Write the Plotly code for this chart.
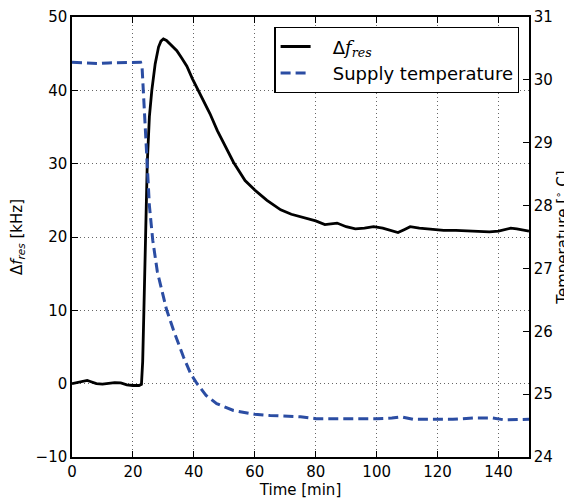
import plotly.graph_objects as go

# Δf_res (left axis, kHz)
t_df = [0, 2, 4, 5, 6, 8, 10, 12, 14, 16, 18, 20, 22, 22.8, 23.2, 23.6, 24.1, 24.7, 25.4,
        26.2, 27.3, 28.4, 29.2, 30.0, 31.0, 32.5, 34.4, 36.0, 37.7, 39.5, 41.5, 43.5, 45.3,
        47.7, 50.3, 53, 56.8, 60, 64, 68.5, 72, 76, 80, 83, 85, 87, 90, 93, 96, 99, 102,
        105, 107, 109, 111, 114, 118, 122, 126, 130, 134, 137, 140, 142, 144, 146, 148, 150]
df_res = [0, 0.2, 0.4, 0.45, 0.3, 0, -0.05, 0.05, 0.15, 0.1, -0.15, -0.25, -0.25, -0.1, 3,
          10, 20, 30, 36.4, 40, 43.6, 45.9, 46.7, 47.0, 46.8, 46.2, 45.4, 44.4, 43.3, 41.6,
          40.0, 38.4, 36.8, 34.5, 32.3, 30.2, 27.7, 26.4, 25.0, 23.7, 23.1, 22.7, 22.2,
          21.7, 21.8, 21.9, 21.4, 21.1, 21.2, 21.4, 21.2, 20.9, 20.6, 21.0, 21.4, 21.2,
          21.0, 20.9, 20.9, 20.8, 20.8, 20.7, 20.8, 21.0, 21.2, 21.1, 20.9, 20.8]

# Supply temperature (right axis, °C)
t_temp = [0, 3, 6, 9, 12, 15, 18, 21, 22.5, 23.0, 23.4, 23.75, 24.5, 25.4, 26.5, 28, 30,
          31, 33.3, 36.6, 39, 41, 44, 47.5, 53, 60, 65, 70, 75, 80, 85, 90, 95, 100, 105,
          108, 112, 118, 125, 132, 138, 142, 146, 150]
temp = [30.28, 30.27, 30.26, 30.26, 30.27, 30.27, 30.27, 30.28, 30.28, 30.2, 29.83, 29.41,
        28.67, 28.0, 27.45, 26.95, 26.55, 26.35, 26.02, 25.59, 25.32, 25.17, 24.98, 24.85,
        24.74, 24.68, 24.66, 24.65, 24.64, 24.61, 24.61, 24.61, 24.60, 24.61, 24.62, 24.64,
        24.60, 24.60, 24.60, 24.62, 24.62, 24.59, 24.60, 24.60]

x_ticks = [0, 20, 40, 60, 80, 100, 120, 140]
y_ticks = [-10, 0, 10, 20, 30, 40, 50]
y_ticktext = ["\u221210", "0", "10", "20", "30", "40", "50"]
y2_ticks = [24, 25, 26, 27, 28, 29, 30, 31]

font = "DejaVu Sans"
pad = "\u00a0\u00a0\u00a0"
math_df = pad + "Δ<span style='font-family:DejaVu Serif'><i>f</i><sub><i>res</i></sub></span>"

fig = go.Figure()
fig.add_trace(go.Scatter(x=t_df, y=df_res, mode="lines", name=math_df, legendgroup="a",
                         line=dict(color="black", width=2.8), yaxis="y"))
fig.add_trace(go.Scatter(x=t_temp, y=temp, mode="lines", name=pad + "Supply temperature",
                         legendgroup="b",
                         line=dict(color="#2B4DA3", width=3, dash="10px,5px"), yaxis="y2"))

def axis(**kw):
    d = dict(showline=True, linecolor="black", linewidth=1.5, ticks="inside",
             ticklen=6, tickcolor="black", automargin=False,
             tickfont=dict(size=15, color="black", family=font), zeroline=False)
    d.update(kw)
    return d

grid = dict(showgrid=True, gridcolor="#666", griddash="1px,3px", gridwidth=1)

# page body has an 8px margin, so the figure is offset by 8px
fig.update_layout(
    width=564, height=492,
    margin=dict(l=64, r=43, t=9, b=43),
    plot_bgcolor="white", paper_bgcolor="white",
    font=dict(family=font, size=15, color="black"),
    xaxis=axis(range=[0, 150], tickvals=x_ticks, mirror="ticks",
               title=dict(text="Time [min]", font=dict(size=15), standoff=3), **grid),
    yaxis=axis(range=[-10, 50], tickvals=y_ticks, ticktext=y_ticktext,
               title=dict(text="Δ<i>f</i><sub><i>res</i></sub> [kHz]", font=dict(size=15),
                          standoff=16), **grid),
    yaxis2=axis(range=[24, 31], tickvals=y2_ticks, overlaying="y", side="right",
                showgrid=False,
                title=dict(text="Temperature [<sup>∘</sup> C]", font=dict(size=15), standoff=6)),
    legend=dict(x=0.979, y=0.977, xanchor="right", yanchor="top",
                bgcolor="white", bordercolor="black", borderwidth=1.2,
                font=dict(size=18, family=font, color="black"),
                itemwidth=30, tracegroupgap=0),
    showlegend=True,
)

fig.write_html("out.html")
